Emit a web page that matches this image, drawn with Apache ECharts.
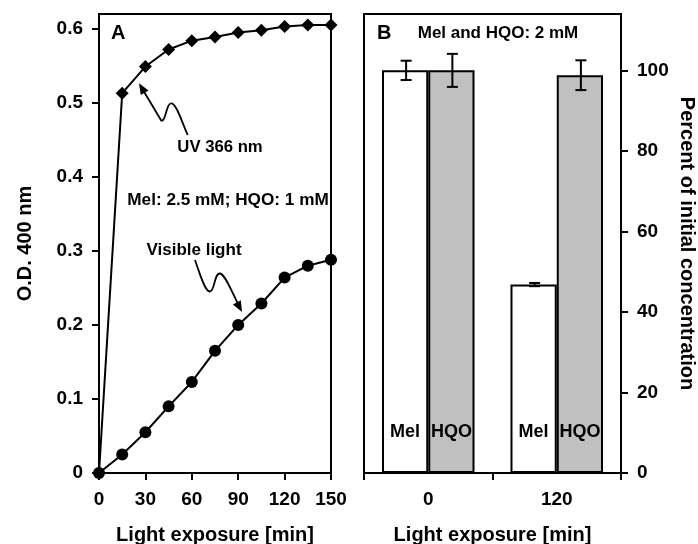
<!DOCTYPE html>
<html>
<head>
<meta charset="utf-8">
<script src="https://cdn.jsdelivr.net/npm/echarts@6/dist/echarts.min.js"></script>
<style>
  html, body { margin: 0; padding: 0; background: #fff; }
  #main { width: 698px; height: 544px; }
</style>
</head>
<body>
<div id="main"></div>
<script>
// Panel A: O.D. 400 nm vs light exposure
const minutes = [0, 15, 30, 45, 60, 75, 90, 105, 120, 135, 150];
const uv366 = [0, 0.513, 0.549, 0.572, 0.584, 0.589, 0.595, 0.598, 0.603, 0.605, 0.605];
const visible = [0, 0.025, 0.055, 0.09, 0.123, 0.165, 0.2, 0.229, 0.264, 0.28, 0.288];
const xTicksA = [0, 30, 60, 90, 120, 150];
const yTicksA = [0, 0.1, 0.2, 0.3, 0.4, 0.5, 0.6];

// Panel B: percent of initial concentration
const exposureCats = ['0', '120'];
const melPct = [100, 46.8];
const hqoPct = [100, 98.8];
const melErr = [2.4, 0.4];
const hqoErr = [4.1, 3.7];
const yTicksB = [0, 20, 40, 60, 80, 100];

const FONT = 'Liberation Sans, Arial, Helvetica, sans-serif';
const BAR_CAT_GAP = 0.28;

const chart = echarts.init(document.getElementById('main'));

const axisLine = { show: true, onZero: false, lineStyle: { color: '#000', width: 2 } };
const axisTick = { show: true, inside: false, length: 7, lineStyle: { color: '#000', width: 2 } };
const labelStyle = { color: '#000', fontFamily: FONT, fontWeight: 'bold', fontSize: 19 };
const nameStyle = { color: '#000', fontFamily: FONT, fontWeight: 'bold', fontSize: 20 };

function errorBars(values, errs, side) {
  return {
    type: 'custom',
    xAxisIndex: 1,
    yAxisIndex: 1,
    z: 5,
    data: values.map((v, i) => [i, v - errs[i], v + errs[i]]),
    renderItem: function (params, api) {
      const catW = api.size([1, 0])[0];
      const barW = catW * (1 - BAR_CAT_GAP) / 2;
      const lo = api.coord([api.value(0), api.value(1)]);
      const hi = api.coord([api.value(0), api.value(2)]);
      const x = lo[0] + side * barW / 2 + 1;
      const cap = 5.5;
      const style = { stroke: '#000', lineWidth: 2 };
      return {
        type: 'group',
        children: [
          { type: 'line', shape: { x1: x, y1: lo[1], x2: x, y2: hi[1] }, style },
          { type: 'line', shape: { x1: x - cap, y1: lo[1], x2: x + cap, y2: lo[1] }, style },
          { type: 'line', shape: { x1: x - cap, y1: hi[1], x2: x + cap, y2: hi[1] }, style }
        ]
      };
    }
  };
}

function arrowHead(tip, from, len, half) {
  const dx = tip[0] - from[0], dy = tip[1] - from[1];
  const d = Math.sqrt(dx * dx + dy * dy);
  const ux = dx / d, uy = dy / d;
  const bx = tip[0] - ux * len, by = tip[1] - uy * len;
  return {
    type: 'polygon',
    shape: { points: [tip, [bx - uy * half, by + ux * half], [bx + uy * half, by - ux * half]] },
    style: { fill: '#000' },
    z: 10
  };
}

function curve(p) {
  return {
    type: 'bezierCurve', z: 10,
    shape: { x1: p[0], y1: p[1], cpx1: p[2], cpy1: p[3], cpx2: p[4], cpy2: p[5], x2: p[6], y2: p[7] },
    style: { fill: null, stroke: '#000', lineWidth: 1.8 }
  };
}

const textStyle = (size) => ({ fill: '#000', fontFamily: FONT, fontWeight: 'bold', fontSize: size });

const option = {
  backgroundColor: '#fff',
  animation: false,
  grid: [
    { left: 99, top: 14, width: 232, height: 459, outerBoundsMode: 'none', containLabel: false, show: true, borderColor: '#000', borderWidth: 2, backgroundColor: 'transparent' },
    { left: 364, top: 14, width: 257, height: 459, outerBoundsMode: 'none', containLabel: false, show: true, borderColor: '#000', borderWidth: 2, backgroundColor: 'transparent' }
  ],
  xAxis: [
    {
      type: 'value', gridIndex: 0, min: 0, max: 150,
      axisLine, axisTick: Object.assign({ customValues: xTicksA }, axisTick),
      splitLine: { show: false },
      axisLabel: Object.assign({ customValues: xTicksA, margin: 17 }, labelStyle),
      name: 'Light exposure [min]', nameLocation: 'middle', nameGap: 52,
      nameTextStyle: nameStyle
    },
    {
      type: 'category', gridIndex: 1, data: exposureCats, boundaryGap: true,
      axisLine, axisTick,
      splitLine: { show: false },
      axisLabel: Object.assign({ margin: 17 }, labelStyle),
      name: 'Light exposure [min]', nameLocation: 'middle', nameGap: 52,
      nameTextStyle: nameStyle
    }
  ],
  yAxis: [
    {
      type: 'value', gridIndex: 0, min: 0, max: 0.62,
      axisLine, axisTick: Object.assign({ customValues: yTicksA }, axisTick),
      splitLine: { show: false },
      axisLabel: Object.assign({ customValues: yTicksA, margin: 16 }, labelStyle),
      name: 'O.D. 400 nm', nameLocation: 'middle', nameGap: 64,
      nameTextStyle: nameStyle
    },
    {
      type: 'value', gridIndex: 1, position: 'right', min: 0, max: 114,
      axisLine, axisTick: Object.assign({ customValues: yTicksB }, axisTick),
      splitLine: { show: false },
      axisLabel: Object.assign({ customValues: yTicksB, margin: 16 }, labelStyle),
      name: 'Percent of initial concentration', nameLocation: 'middle', nameGap: 56, nameRotate: -90,
      nameTextStyle: nameStyle
    }
  ],
  series: [
    {
      name: 'UV 366 nm', type: 'line', xAxisIndex: 0, yAxisIndex: 0,
      data: minutes.map((m, i) => [m, uv366[i]]),
      symbol: 'diamond', symbolSize: 13, showAllSymbol: true,
      lineStyle: { color: '#000', width: 2 }, itemStyle: { color: '#000' }, z: 3
    },
    {
      name: 'Visible light', type: 'line', xAxisIndex: 0, yAxisIndex: 0,
      data: minutes.map((m, i) => [m, visible[i]]),
      symbol: 'circle', symbolSize: 12, showAllSymbol: true,
      lineStyle: { color: '#000', width: 2 }, itemStyle: { color: '#000' }, z: 3
    },
    {
      name: 'Mel', type: 'bar', xAxisIndex: 1, yAxisIndex: 1, data: melPct,
      barGap: '0%', barCategoryGap: (BAR_CAT_GAP * 100) + '%',
      itemStyle: { color: '#fff', borderColor: '#000', borderWidth: 2 },
      label: Object.assign({ show: true, position: 'insideBottom', distance: 32, formatter: '{a}' }, labelStyle, { fontSize: 18 })
    },
    {
      name: 'HQO', type: 'bar', xAxisIndex: 1, yAxisIndex: 1, data: hqoPct,
      itemStyle: { color: '#c0c0c0', borderColor: '#000', borderWidth: 2 },
      label: Object.assign({ show: true, position: 'insideBottom', distance: 32, formatter: '{a}' }, labelStyle, { fontSize: 18 })
    },
    errorBars(melPct, melErr, -1),
    errorBars(hqoPct, hqoErr, 1)
  ],
  graphic: [
    { type: 'text', x: 111, y: 33, style: Object.assign({ text: 'A', verticalAlign: 'middle' }, textStyle(20)) },
    { type: 'text', x: 377, y: 33, style: Object.assign({ text: 'B', verticalAlign: 'middle' }, textStyle(20)) },
    { type: 'text', x: 498, y: 33, style: Object.assign({ text: 'Mel and HQO: 2 mM', align: 'center', verticalAlign: 'middle' }, textStyle(17)) },
    { type: 'text', x: 220, y: 147, style: Object.assign({ text: 'UV 366 nm', align: 'center', verticalAlign: 'middle' }, textStyle(16.7)) },
    { type: 'text', x: 228, y: 200, style: Object.assign({ text: 'Mel: 2.5 mM; HQO: 1 mM', align: 'center', verticalAlign: 'middle' }, textStyle(17.2)) },
    { type: 'text', x: 194, y: 250, style: Object.assign({ text: 'Visible light', align: 'center', verticalAlign: 'middle' }, textStyle(17)) },
    curve([187.7, 135, 181, 120, 176, 102, 170.5, 103.5]),
    curve([170.5, 103.5, 166, 105, 166, 121, 161.5, 121]),
    { type: 'line', z: 10, shape: { x1: 161.5, y1: 121, x2: 143, y2: 90 }, style: { stroke: '#000', lineWidth: 1.8 } },
    arrowHead([139, 83.3], [161.5, 121], 11, 4.5),
    curve([195, 260, 200, 274, 205, 292, 210, 291.5]),
    curve([210, 291.5, 215, 291, 214, 273, 220, 273.5]),
    curve([220, 273.5, 225, 274, 232, 292, 238, 304]),
    arrowHead([242, 312], [225, 280], 11, 4.5)
  ]
};

chart.setOption(option);
</script>
</body>
</html>
